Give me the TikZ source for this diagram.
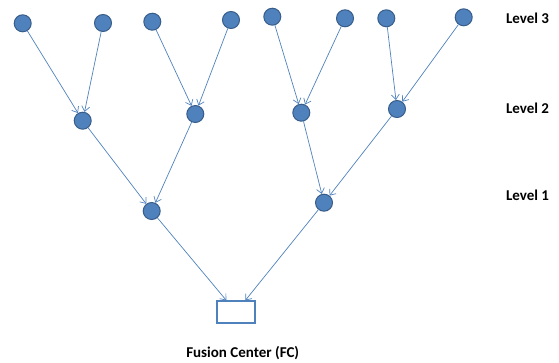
\documentclass[tikz,border=0pt]{standalone}
\usepackage{fontspec}
\setmainfont{Carlito}
\usetikzlibrary{arrows.meta}
\definecolor{nodeblue}{HTML}{4F81BD}
\definecolor{nodeedge}{HTML}{385D8A}
\tikzset{
  sensor/.style={circle, fill=nodeblue, draw=nodeedge, line width=1pt, minimum size=17pt, inner sep=0pt},
  fcbox/.style={rectangle, draw=nodeblue, line width=1.2pt, minimum width=38pt, minimum height=22pt, inner sep=0pt},
  link/.style={draw=nodeblue, line width=0.7pt, -{Straight Barb[length=5pt,width=8pt,line width=0.7pt]}},
  lbl/.style={font=\bfseries\fontsize{15}{18}\selectfont, inner sep=0pt}
}
\begin{document}
\begin{tikzpicture}[x=1pt,y=-1pt]
\useasboundingbox (0,0) rectangle (559,362);
% level 3
\node[sensor] (a1) at (22.7,23.3) {};
\node[sensor] (a2) at (103,23) {};
\node[sensor] (a3) at (152.3,21.7) {};
\node[sensor] (a4) at (231,20) {};
\node[sensor] (a5) at (272.3,16.7) {};
\node[sensor] (a6) at (345,18.3) {};
\node[sensor] (a7) at (386.3,18.3) {};
\node[sensor] (a8) at (463.7,17.3) {};
% level 2
\node[sensor] (b1) at (82.7,120.7) {};
\node[sensor] (b2) at (195.3,114) {};
\node[sensor] (b3) at (301.3,112.7) {};
\node[sensor] (b4) at (397,109) {};
% level 1
\node[sensor] (c1) at (151.7,211) {};
\node[sensor] (c2) at (324,202.7) {};
% FC
\node[fcbox] (fc) at (236,312) {};
% labels
\node[lbl] (l3) at (527.5,18) {Level 3};
\node[lbl] (l2) at (527.5,108) {Level 2};
\node[lbl] (l1) at (527.5,195) {Level 1};
\node[lbl] (fcl) at (242.7,352.7) {Fusion Center (FC)};
% edges
\draw[link] (a1) -- (b1);
\draw[link] (a2) -- (b1);
\draw[link] (a3) -- (b2);
\draw[link] (a4) -- (b2);
\draw[link] (a5) -- (b3);
\draw[link] (a6) -- (b3);
\draw[link] (a7) -- (b4);
\draw[link] (a8) -- (b4);
\draw[link] (b1) -- (c1);
\draw[link] (b2) -- (c1);
\draw[link] (b3) -- (c2);
\draw[link] (b4) -- (c2);
\draw[link] (c1) -- (fc);
\draw[link] (c2) -- (fc);
\end{tikzpicture}
\end{document}
